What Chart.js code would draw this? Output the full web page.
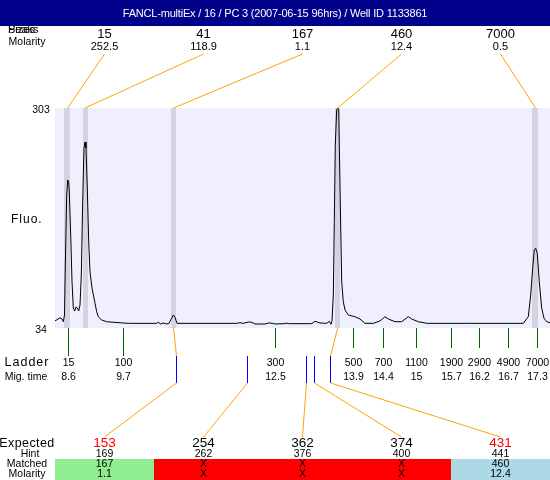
<!DOCTYPE html>
<html><head><meta charset="utf-8">
<script src="https://cdn.jsdelivr.net/npm/chart.js@4.4.0/dist/chart.umd.min.js"></script>
<style>html,body{margin:0;padding:0;background:#fff;}#wrap{width:550px;height:480px;}</style>
</head><body><div id="wrap"><canvas id="c" width="550" height="480"></canvas></div>
<script>
const title = 'FANCL-multiEx / 16 / PC 3 (2007-06-15 96hrs) / Well ID 1133861';
const yMin = 34, yMax = 303;
const xMin = 8.407, xMax = 17.511;
const yTickLabels = ['303', '34'];

const traceTime = [8.407,8.499,8.536,8.560,8.582,8.596,8.622,8.641,8.659,8.670,8.696,8.720,8.744,8.769,8.793,8.817,8.843,8.867,8.891,8.916,8.940,8.959,8.977,9.001,9.027,9.051,9.088,9.124,9.143,9.174,9.203,9.266,9.358,9.479,9.755,10.277,10.307,10.351,10.399,10.461,10.504,10.541,10.583,10.614,10.651,11.350,11.749,11.809,11.870,11.962,12.025,12.085,12.269,12.330,12.411,12.453,12.637,12.655,12.698,13.128,13.189,13.231,13.281,13.404,13.452,13.483,13.502,13.526,13.544,13.562,13.588,13.606,13.625,13.636,13.662,13.680,13.709,13.741,13.801,13.924,14.016,14.108,14.261,14.384,14.476,14.537,14.660,14.783,14.905,14.967,15.089,15.243,15.979,17.020,17.112,17.156,17.193,17.222,17.248,17.277,17.314,17.358,17.401,17.450,17.511];
const traceFluo = [42.6,46.6,45.0,41.7,49.9,107.4,196.6,215.0,212.5,200.3,147.7,90.2,58.5,54.8,59.7,58.5,54.8,62.1,98.8,188.1,254.1,261.4,254.1,205.2,139.2,102.5,82.9,70.7,64.2,53.9,47.8,43.8,41.7,41.0,39.7,39.7,41.0,38.9,40.1,38.9,39.7,44.6,49.9,47.1,39.7,39.7,39.7,40.5,39.7,41.3,41.0,38.9,38.9,40.1,39.7,38.9,39.3,40.1,39.3,39.3,42.2,41.3,40.1,39.7,42.2,38.5,42.9,74.3,164.0,257.8,300.6,303.0,300.6,257.8,156.3,90.6,66.2,56.0,49.9,47.8,45.0,39.7,39.7,42.6,47.8,45.0,41.7,41.7,47.8,45.0,41.7,39.7,39.7,39.7,47.8,74.3,107.4,129.4,131.5,125.3,90.6,58.1,45.9,41.7,40.5];

const peakSizes = ['15','41','167','460','7000'];
const peakMolarity = ['252.5','118.9','1.1','12.4','0.5'];
const peakTimes = [8.641, 8.959, 10.586, 13.606, 17.246];
const peakStart = [8.573, 8.922, 10.540, 13.557, 17.180];
const peakEnd   = [8.683, 9.014, 10.632, 13.649, 17.290];

const ladderSizes = ['15','100','300','500','700','1100','1900','2900','4900','7000'];
const ladderTimes = [8.64, 9.66, 12.46, 13.89, 14.44, 15.04, 15.69, 16.21, 16.74, 17.27];
const ladderTimeLabels = ['8.6','9.7','12.5','13.9','14.4','15','15.7','16.2','16.7','17.3'];

const expectedSizes = ['153','254','362','374','431'];
const expectedTimes = [10.632, 11.933, 13.018, 13.176, 13.465];
const expectedHint = ['169','262','376','400','441'];
const matchedSizes = ['167','X','X','X','460'];
const matchedMolarity = ['1.1','X','X','X','12.4'];
const matchedPeak = [2, -1, -1, -1, 3];
const expectedFlag = [true, false, false, false, true];
const matchStatus = ['found', 'missing', 'missing', 'missing', 'other'];

const FONT = '"Liberation Sans", Arial, sans-serif';
const statusColor = {found: '#90EE90', missing: '#FF0000', other: '#ADD8E6'};

function txt(ctx, s, x, y, size, color, align, spacing) {
  ctx.font = size + 'px ' + FONT;
  ctx.fillStyle = color || '#000';
  ctx.textAlign = align || 'center';
  ctx.textBaseline = 'middle';
  ctx.letterSpacing = spacing || '0px';
  ctx.fillText(s, x, y);
  ctx.letterSpacing = '0px';
}
function line(ctx, pts, color, w) {
  ctx.beginPath();
  ctx.strokeStyle = color; ctx.lineWidth = w || 1;
  ctx.moveTo(pts[0][0], pts[0][1]);
  for (let i = 1; i < pts.length; i++) ctx.lineTo(pts[i][0], pts[i][1]);
  ctx.stroke();
}

const deco = {
  id: 'deco',
  beforeDraw(chart) {
    const ctx = chart.ctx;
    ctx.save();
    ctx.fillStyle = '#fff';
    ctx.fillRect(0, 0, chart.width, chart.height);
    ctx.restore();
  },
  beforeDatasetsDraw(chart) {
    const ctx = chart.ctx, a = chart.chartArea, xs = chart.scales.x;
    ctx.save();
    ctx.fillStyle = '#EFEFFD';
    ctx.fillRect(a.left, a.top, a.right - a.left, a.bottom - a.top);
    ctx.fillStyle = '#D3D3E1';
    for (let i = 0; i < peakTimes.length; i++) {
      const x0 = xs.getPixelForValue(peakStart[i]), x1 = xs.getPixelForValue(peakEnd[i]);
      ctx.fillRect(x0, a.top, x1 - x0, a.bottom - a.top);
    }
    ctx.restore();
  },
  afterDatasetsDraw(chart) {
    const ctx = chart.ctx, a = chart.chartArea, xs = chart.scales.x, ys = chart.scales.y;
    const W = chart.width;
    const colW = (a.right - a.left) / 5;
    const colX = i => a.left + (i + 0.5) * colW;
    ctx.save();
    txt(ctx, 'Peaks', 8, 30, 11, '#000', 'left');
    txt(ctx, 'Sizes', 8, 30, 11, '#000', 'left');
    ctx.fillStyle = '#00008B';
    ctx.fillRect(0, 0, W, 26);
    txt(ctx, title, 275, 14, 11, '#fff', 'center', '-0.2px');
    txt(ctx, 'Molarity', 27, 42, 10.5);

    for (let i = 0; i < peakSizes.length; i++) {
      const cx = colX(i);
      txt(ctx, peakSizes[i], cx, 34.5, 13);
      txt(ctx, peakMolarity[i], cx, 47, 11);
      line(ctx, [[cx, 54], [xs.getPixelForValue(peakTimes[i]), a.top]], '#FFA500', 1);
    }
    txt(ctx, yTickLabels[0], 41, ys.getPixelForValue(yMax) + 2, 10.5);
    txt(ctx, yTickLabels[1], 41, ys.getPixelForValue(yMin) + 2, 10.5);
    txt(ctx, 'Fluo.', 11, (a.top + a.bottom) / 2 + 2, 12, '#000', 'left', '1px');

    for (let i = 0; i < ladderSizes.length; i++) {
      const x = Math.round(xs.getPixelForValue(ladderTimes[i])) + 0.5;
      line(ctx, [[x, a.bottom], [x, i < 2 ? a.bottom + 28 : a.bottom + 20]], '#006400', 1);
      txt(ctx, ladderSizes[i], x, 363, 10.5);
      txt(ctx, ladderTimeLabels[i], x, 377, 10.5);
    }
    txt(ctx, 'Ladder', 27, 363, 12.5, '#000', 'center', '1px');
    txt(ctx, 'Mig. time', 26, 377, 10.5);

    for (let i = 0; i < expectedSizes.length; i++) {
      const ex = Math.round(xs.getPixelForValue(expectedTimes[i])) + 0.5;
      if (matchedPeak[i] >= 0) {
        line(ctx, [[xs.getPixelForValue(peakTimes[matchedPeak[i]]), a.bottom], [ex, 356]], '#FFA500', 1);
      }
      line(ctx, [[ex, 356], [ex, 383]], '#0000FF', 1);
      line(ctx, [[ex, 383], [colX(i), 437]], '#FFA500', 1);
    }

    for (let i = 0; i < expectedSizes.length; i++) {
      const x0 = a.left + i * colW;
      ctx.fillStyle = statusColor[matchStatus[i]];
      ctx.fillRect(x0, 459, colW, 480 - 459);
    }
    for (let i = 0; i < expectedSizes.length; i++) {
      const cx = colX(i);
      txt(ctx, expectedSizes[i], cx, 443.5, 13.5, expectedFlag[i] ? '#FF0000' : '#000');
      txt(ctx, expectedHint[i], cx, 454.5, 10.5);
      txt(ctx, matchedSizes[i], cx, 464.5, 10.5);
      txt(ctx, matchedMolarity[i], cx, 474.5, 10.5);
    }
    txt(ctx, 'Expected', 27, 443.5, 12.5, '#000', 'center', '0.4px');
    txt(ctx, 'Hint', 30, 454.5, 10.5);
    txt(ctx, 'Matched', 27, 464.5, 10.5);
    txt(ctx, 'Molarity', 27, 474.5, 10.5);
    ctx.restore();
  }
};

new Chart(document.getElementById('c'), {
  type: 'line',
  data: {
    datasets: [{
      data: traceTime.map((t, i) => ({x: t, y: traceFluo[i]})),
      borderColor: '#000', borderWidth: 1, pointRadius: 0, tension: 0, fill: false
    }]
  },
  options: {
    responsive: false, animation: false, devicePixelRatio: 1,
    layout: {padding: {left: 55, right: 0, top: 108, bottom: 152}},
    plugins: {legend: {display: false}, tooltip: {enabled: false}},
    scales: {
      x: {type: 'linear', min: xMin, max: xMax, display: false},
      y: {min: yMin, max: yMax, display: false}
    }
  },
  plugins: [deco]
});
</script>
</body></html>
